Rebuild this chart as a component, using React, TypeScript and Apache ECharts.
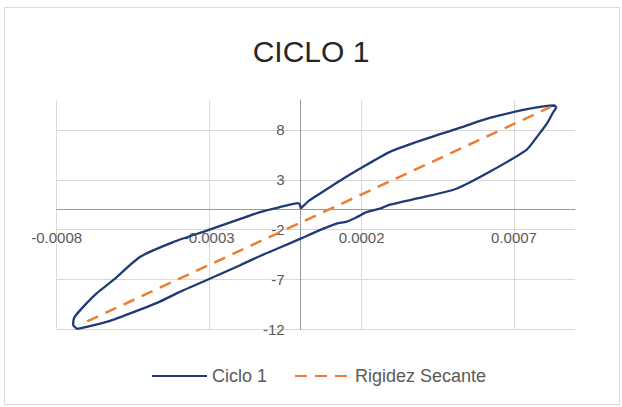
import React, { useEffect, useRef } from "react";
import * as echarts from "echarts";

// Ciclo 1 hysteresis loop (strain, load) in drawing order
const cicloX: number[] = [
  0, 0.00003, 0.000063, 0.000129, 0.000194, 0.000293, 0.000401, 0.000512, 0.00062, 0.00073, 0.000796, 0.000832, 0.000838,
  0.000828, 0.000807, 0.000774, 0.000741, 0.00062, 0.000511, 0.000402, 0.000293, 0.00026, 0.000216, 0.000184, 0.000151, 0.000118, 0.000063, 0,
  -0.0000677, -0.000133, -0.0002, -0.0003, -0.0004, -0.00046, -0.000516, -0.000625, -0.000702, -0.000732,
  -0.000746, -0.000742, -0.000713, -0.000669, -0.000614, -0.000527, -0.000418, -0.000308, -0.0002, -0.000133, -0.0000677, -0.000008, -0.000001, 0,
];
const cicloY: number[] = [
  0.1, 0.95, 1.6, 2.9, 4.1, 5.8, 7.0, 8.1, 9.2, 10.0, 10.35, 10.45, 10.25,
  9.75, 8.6, 7.25, 6.0, 3.8, 2.1, 1.25, 0.5, 0.1, -0.25, -0.75, -1.2, -1.4, -2.05, -2.9,
  -3.8, -4.65, -5.6, -6.95, -8.3, -9.2, -9.9, -11.15, -11.75, -11.95,
  -11.55, -10.8, -9.75, -8.4, -7.05, -4.75, -3.25, -2.1, -0.95, -0.25, 0.25, 0.66, 0.4, 0.1,
];

// Rigidez Secante (secant stiffness line)
const secanteX: number[] = [-0.0007, 0.00082];
const secanteY: number[] = [-11.2, 10.3];

const xTicks = { min: -0.0008, max: 0.0009, interval: 0.0005 };
const yTicks = { min: -12, max: 11, interval: 5 };

const FONT = "Liberation Sans";

export default function App() {
  const ref = useRef<HTMLDivElement>(null);
  useEffect(() => {
    if (!ref.current) return;
    const chart = echarts.init(ref.current, undefined, { renderer: "svg" });
    const ciclo = cicloX.map((x, i) => [x, cicloY[i]]);
    const secante = secanteX.map((x, i) => [x, secanteY[i]]);

    const gridLeft = 56.7;
    const gridRight = 47;
    const gridTop = 100;
    const gridBottom = 77.7;
    const plotW = 622 - gridLeft - gridRight;
    const plotH = 407 - gridTop - gridBottom;
    // offsets so the axes (with their labels) sit on the zero lines
    const yZeroFrac = (0 - yTicks.min) / (yTicks.max - yTicks.min);
    const xZeroFrac = (0 - xTicks.min) / (xTicks.max - xTicks.min);
    const xAxisOffset = -(yZeroFrac * plotH);
    const yAxisOffset = -(xZeroFrac * plotW);

    chart.setOption({
      animation: false,
      backgroundColor: "#ffffff",
      textStyle: { fontFamily: FONT },
      title: {
        text: "CICLO 1",
        left: "center",
        top: 31,
        textStyle: { fontSize: 30, fontWeight: "normal", color: "#262626", fontFamily: FONT },
      },
      graphic: [
        {
          type: "rect",
          shape: { x: 4.5, y: 7.5, width: 615, height: 397 },
          style: { fill: "none", stroke: "#d9d9d9", lineWidth: 1 },
          silent: true,
        },
      ],
      legend: {
        data: ["Ciclo 1", "Rigidez Secante"],
        left: 146,
        top: 362,
        itemWidth: 55,
        itemHeight: 14,
        itemGap: 27,
        itemStyle: { opacity: 0, color: "rgba(0,0,0,0)", borderWidth: 0 },
        textStyle: { fontSize: 18, color: "#595959", fontFamily: FONT },
      },
      grid: { left: gridLeft, right: gridRight, top: gridTop, bottom: gridBottom, containLabel: false },
      xAxis: {
        type: "value",
        position: "bottom",
        offset: xAxisOffset,
        min: xTicks.min,
        max: xTicks.max,
        interval: xTicks.interval,
        axisLine: { show: true, onZero: false, lineStyle: { color: "#999999", width: 1 } },
        axisTick: { show: false },
        axisLabel: {
          showMaxLabel: false,
          margin: 20,
          fontSize: 15,
          color: "#595959",
          formatter: (v: number) => {
            const r = Math.round(v * 10000) / 10000;
            return r.toFixed(4);
          },
        },
        splitLine: { show: true, showMaxLine: false, lineStyle: { color: "#d9d9d9", width: 1 } },
      },
      yAxis: {
        type: "value",
        position: "left",
        offset: yAxisOffset,
        min: yTicks.min,
        max: yTicks.max,
        interval: yTicks.interval,
        axisLine: { show: true, onZero: false, lineStyle: { color: "#999999", width: 1 } },
        axisTick: { show: false },
        axisLabel: { showMaxLabel: false, margin: 16, fontSize: 15, color: "#595959" },
        splitLine: { show: true, showMaxLine: false, lineStyle: { color: "#d9d9d9", width: 1 } },
      },
      series: [
        {
          name: "Ciclo 1",
          type: "line",
          data: ciclo,
          showSymbol: false,
          symbol: "none",
          smooth: 0.2,
          lineStyle: { color: "#1f3a78", width: 2.3 },
          itemStyle: { color: "#1f3a78" },
          z: 3,
        },
        {
          name: "Rigidez Secante",
          type: "line",
          data: secante,
          showSymbol: false,
          symbol: "none",
          lineStyle: { color: "#ED7D31", width: 2.5, type: [12, 8] },
          itemStyle: { color: "#ED7D31" },
          z: 4,
        },
      ],
    });
    return () => chart.dispose();
  }, []);
  return (
    <div
      ref={ref}
      style={{ position: "fixed", left: 0, top: 0, width: 622, height: 407, background: "#fff" }}
    />
  );
}
